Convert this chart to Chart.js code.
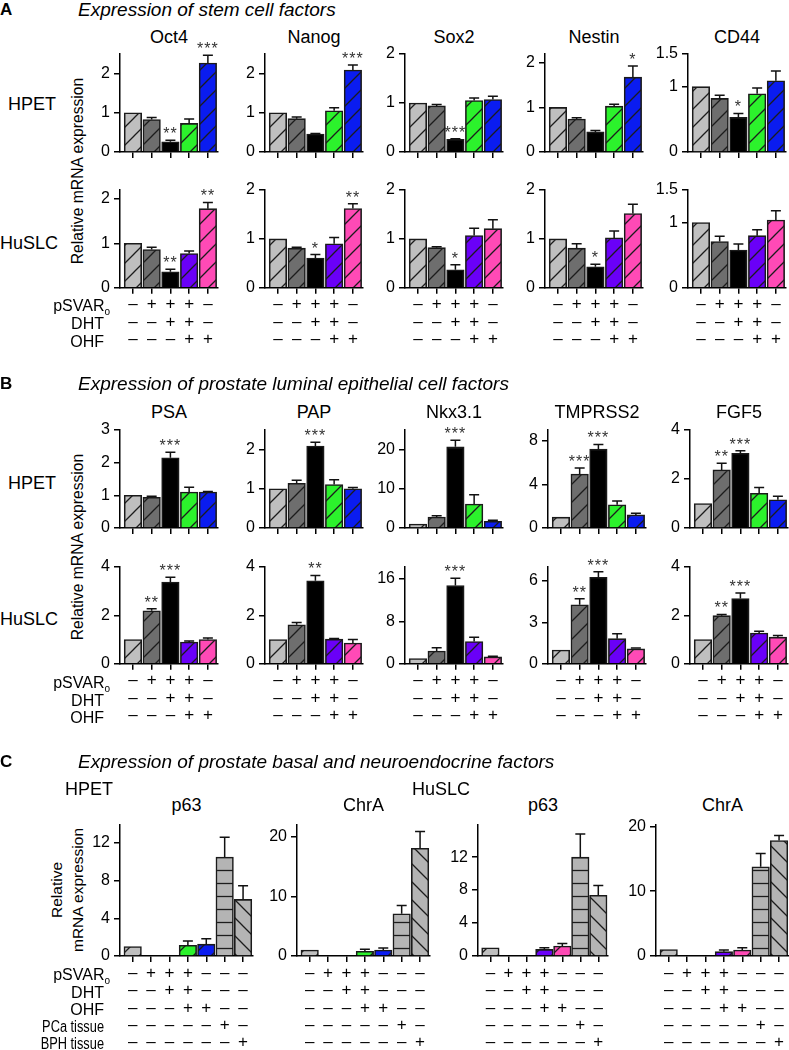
<!DOCTYPE html>
<html>
<head>
<meta charset="utf-8">
<script src="https://cdn.jsdelivr.net/npm/chart.js@4.4.1/dist/chart.umd.min.js"></script>
<style>
body { margin: 0; background: #fff; font-family: "Liberation Sans", Arial, sans-serif; }
#fig { position: relative; width: 789px; height: 1050px; overflow: hidden; }
.t { position: absolute; white-space: nowrap; color: #000; line-height: 1; }
canvas { position: absolute; }
sub { font-size: 10px; vertical-align: -4px; margin-right: -7px; }
</style>
</head>
<body>
<div id="fig"></div>
<script>
// treatment table under the bars
const pSVARo = ['–', '+', '+', '+', '–'];
const DHT = ['–', '–', '+', '+', '–'];
const OHF = ['–', '–', '–', '+', '+'];
const pSVARo7 = ['–', '+', '+', '+', '–', '–', '–'];
const DHT7 = ['–', '–', '+', '+', '–', '–', '–'];
const OHF7 = ['–', '–', '–', '+', '+', '–', '–'];
const PCa7 = ['–', '–', '–', '–', '–', '+', '–'];
const BPH7 = ['–', '–', '–', '–', '–', '–', '+'];

// A - stem cell factors, HPET
const oct4Hpet = [1.00, 0.83, 0.26, 0.73, 2.27];
const oct4HpetErr = [0, 0.05, 0.04, 0.11, 0.20];
const oct4HpetSig = ['', '', '**', '', '***'];
const nanogHpet = [1.00, 0.85, 0.46, 1.05, 2.09];
const nanogHpetErr = [0, 0.04, 0.01, 0.08, 0.13];
const nanogHpetSig = ['', '', '', '', '***'];
const sox2Hpet = [1.00, 0.94, 0.26, 1.05, 1.07];
const sox2HpetErr = [0, 0.03, 0.01, 0.05, 0.07];
const sox2HpetSig = ['', '', '***', '', ''];
const nestinHpet = [1.00, 0.74, 0.45, 1.03, 1.68];
const nestinHpetErr = [0, 0.03, 0.03, 0.04, 0.25];
const nestinHpetSig = ['', '', '', '', '*'];
const cd44Hpet = [1.00, 0.82, 0.53, 0.89, 1.09];
const cd44HpetErr = [0, 0.05, 0.06, 0.09, 0.15];
const cd44HpetSig = ['', '', '*', '', ''];

// A - stem cell factors, HuSLC
const oct4Huslc = [1.00, 0.86, 0.36, 0.77, 1.78];
const oct4HuslcErr = [0, 0.05, 0.06, 0.06, 0.14];
const oct4HuslcSig = ['', '', '**', '', '**'];
const nanogHuslc = [1.00, 0.81, 0.61, 0.90, 1.62];
const nanogHuslcErr = [0, 0.02, 0.07, 0.13, 0.10];
const nanogHuslcSig = ['', '', '*', '', '**'];
const sox2Huslc = [1.00, 0.82, 0.37, 1.07, 1.21];
const sox2HuslcErr = [0, 0.02, 0.10, 0.15, 0.18];
const sox2HuslcSig = ['', '', '*', '', ''];
const nestinHuslc = [1.00, 0.81, 0.43, 1.02, 1.52];
const nestinHuslcErr = [0, 0.09, 0.05, 0.14, 0.19];
const nestinHuslcSig = ['', '', '*', '', ''];
const cd44Huslc = [1.00, 0.71, 0.58, 0.80, 1.04];
const cd44HuslcErr = [0, 0.08, 0.09, 0.09, 0.14];
const cd44HuslcSig = ['', '', '', '', ''];

// B - luminal epithelial factors, HPET
const psaHpet = [1.00, 0.94, 2.15, 1.10, 1.10];
const psaHpetErr = [0, 0.03, 0.17, 0.15, 0.02];
const psaHpetSig = ['', '', '***', '', ''];
const papHpet = [1.00, 1.14, 2.09, 1.11, 1.00];
const papHpetErr = [0, 0.08, 0.10, 0.12, 0.03];
const papHpetSig = ['', '', '***', '', ''];
const nkxHpet = [1.0, 2.8, 20.7, 6.1, 1.7];
const nkxHpetErr = [0, 0.3, 1.7, 2.4, 0.3];
const nkxHpetSig = ['', '', '***', '', ''];
const tmprssHpet = [1.0, 4.96, 7.24, 2.13, 1.2];
const tmprssHpetErr = [0, 0.55, 0.43, 0.35, 0.15];
const tmprssHpetSig = ['', '***', '***', '', ''];
const fgf5Hpet = [1.0, 2.37, 3.05, 1.42, 1.15];
const fgf5HpetErr = [0, 0.27, 0.10, 0.23, 0.15];
const fgf5HpetSig = ['', '**', '***', '', ''];

// B - luminal epithelial factors, HuSLC
const psaHuslc = [1.0, 2.19, 3.38, 0.90, 1.00];
const psaHuslcErr = [0, 0.08, 0.20, 0.04, 0.07];
const psaHuslcSig = ['', '**', '***', '', ''];
const papHuslc = [1.0, 1.61, 3.43, 1.02, 0.86];
const papHuslcErr = [0, 0.10, 0.22, 0.03, 0.14];
const papHuslcSig = ['', '', '**', '', ''];
const nkxHuslc = [1.0, 2.4, 14.7, 4.2, 1.3];
const nkxHuslcErr = [0, 0.6, 1.4, 0.8, 0.1];
const nkxHuslcSig = ['', '', '***', '', ''];
const tmprssHuslc = [1.0, 4.27, 6.26, 1.82, 1.08];
const tmprssHuslcErr = [0, 0.43, 0.40, 0.36, 0.07];
const tmprssHuslcSig = ['', '**', '***', '', ''];
const fgf5Huslc = [1.0, 1.99, 2.70, 1.27, 1.10];
const fgf5HuslcErr = [0, 0.05, 0.23, 0.08, 0.07];
const fgf5HuslcSig = ['', '**', '***', '', ''];

// C - basal and neuroendocrine factors (null = not detected)
const p63Hpet = [1.0, null, null, 1.13, 1.26, 10.5, 6.0];
const p63HpetErr = [0, 0, 0, 0.45, 0.57, 2.1, 1.45];
const chraHpet = [1.0, null, null, 0.8, 1.0, 7.1, 18.1];
const chraHpetErr = [0, 0, 0, 0.35, 0.35, 1.4, 2.8];
const p63Huslc = [1.0, null, null, 0.8, 1.21, 12.0, 7.37];
const p63HuslcErr = [0, 0, 0, 0.2, 0.3, 2.8, 1.2];
const chraHuslc = [1.0, null, null, 0.67, 0.92, 13.75, 17.8];
const chraHuslcErr = [0, 0, 0, 0.25, 0.35, 2.05, 0.8];

Chart.defaults.font.family = '"Liberation Sans", Arial, sans-serif';
Chart.defaults.color = '#000';

const FIG = document.getElementById('fig');

// bar fill styles
const LIGHT = { color: '#bfbfbf', kind: '/' };
const DARK = { color: '#6e6e6e', kind: '/' };
const BLACK = { color: '#000000' };
const GREEN = { color: '#2cf22c', kind: '/' };
const BLUE = { color: '#0a1cf0', kind: '/' };
const PURPLE = { color: '#6a00f8', kind: '/' };
const PINK = { color: '#ff4ab6', kind: '/' };
const TISSUE_PCA = { color: '#b4b4b4', kind: '-' };
const TISSUE_BPH = { color: '#b4b4b4', kind: '\\' };
const HPET_FILLS = [LIGHT, DARK, BLACK, GREEN, BLUE];
const HUSLC_FILLS = [LIGHT, DARK, BLACK, PURPLE, PINK];
const HPET_FILLS7 = [LIGHT, LIGHT, LIGHT, GREEN, BLUE, TISSUE_PCA, TISSUE_BPH];
const HUSLC_FILLS7 = [LIGHT, LIGHT, LIGHT, PURPLE, PINK, TISSUE_PCA, TISSUE_BPH];

function makePattern(ctx, bg, kind) {
    const s = kind === '-' ? 13 : 18;
    const c = document.createElement('canvas');
    c.width = s; c.height = s;
    const g = c.getContext('2d');
    g.fillStyle = bg;
    g.fillRect(0, 0, s, s);
    g.strokeStyle = '#1c1c1c';
    g.lineWidth = 1.3;
    g.beginPath();
    if (kind === '/') {
        g.moveTo(0, s); g.lineTo(s, 0);
        g.moveTo(-2, 2); g.lineTo(2, -2);
        g.moveTo(s - 2, s + 2); g.lineTo(s + 2, s - 2);
    } else if (kind === '\\') {
        g.moveTo(0, 0); g.lineTo(s, s);
        g.moveTo(-2, s - 2); g.lineTo(2, s + 2);
        g.moveTo(s - 2, -2); g.lineTo(s + 2, 2);
    } else {
        g.moveTo(0, s / 2); g.lineTo(s, s / 2);
    }
    g.stroke();
    return ctx.createPattern(c, 'repeat');
}

function text(html, x, y, size, align, style) {
    const d = document.createElement('div');
    d.className = 't';
    d.innerHTML = html;
    d.style.fontSize = size + 'px';
    d.style.left = x + 'px';
    d.style.top = y + 'px';
    const tx = align === 'left' ? '0' : align === 'right' ? '-100%' : '-50%';
    d.style.transform = 'translate(' + tx + ',-50%)' + (style && style.rotate ? ' rotate(-90deg)' : '') + (style && style.sx ? ' scaleX(' + style.sx + ')' : '');
    if (style && style.origin) d.style.transformOrigin = style.origin;
    if (style && style.italic) d.style.fontStyle = 'italic';
    if (style && style.bold) d.style.fontWeight = 'bold';
    FIG.appendChild(d);
    return d;
}

function addChart(o) {
    const n = o.values.length;
    const YW = 40, PT = 26, PR = 6;
    const rows = o.table ? o.table.length : 0;
    const rowH = o.rowH || 17.4;
    const tpad = o.tpad || 2;
    const XH = rows ? 6 + tpad + rows * rowH + 4 : 14;
    const cv = document.createElement('canvas');
    cv.width = YW + o.w + PR;
    cv.height = PT + o.h + XH;
    cv.style.left = (o.x - YW) + 'px';
    cv.style.top = (o.top - PT) + 'px';
    FIG.appendChild(cv);
    const ctx = cv.getContext('2d');
    const fills = o.fills.map(f => f.kind ? makePattern(ctx, f.color, f.kind) : f.color);

    const errPlugin = {
        id: 'errbars',
        afterDatasetsDraw(chart) {
            const meta = chart.getDatasetMeta(0);
            const ys = chart.scales.y;
            const c = chart.ctx;
            c.save();
            c.strokeStyle = '#111';
            c.lineWidth = 1.5;
            meta.data.forEach((bar, i) => {
                const v = o.values[i];
                if (v == null) return;
                const e = o.errs[i] || 0;
                let top = bar.y;
                if (e > 0) {
                    const ye = ys.getPixelForValue(v + e);
                    c.beginPath();
                    c.moveTo(bar.x, bar.y);
                    c.lineTo(bar.x, ye);
                    c.moveTo(bar.x - 5, ye);
                    c.lineTo(bar.x + 5, ye);
                    c.stroke();
                    top = ye;
                }
                const s = o.sig && o.sig[i];
                if (s) {
                    c.fillStyle = '#333';
                    c.font = '16px "Liberation Sans", Arial, sans-serif';
                    c.textAlign = 'center';
                    c.textBaseline = 'alphabetic';
                    c.letterSpacing = '1px';
                    c.fillText(s, bar.x, top - 1);
                }
            });
            c.restore();
        }
    };

    new Chart(ctx, {
        type: 'bar',
        data: {
            datasets: [{
                data: o.values.map((v, i) => ({ x: i, y: v })),
                backgroundColor: fills,
                borderColor: '#1a1a1a',
                borderWidth: 1.6,
                barThickness: 17.5
            }]
        },
        options: {
            responsive: false,
            animation: false,
            events: [],
            layout: { padding: { top: PT, right: PR, left: 0, bottom: 0 } },
            plugins: { legend: { display: false }, tooltip: { enabled: false } },
            scales: {
                x: {
                    type: 'linear',
                    offset: false,
                    min: -0.69,
                    max: n - 0.46,
                    afterBuildTicks: s => { s.ticks = o.values.map((v, i) => ({ value: i })); },
                    afterFit: s => { s.height = XH; },
                    grid: { display: true, offset: false, drawOnChartArea: false, drawTicks: true, tickLength: 6, color: '#000', lineWidth: 1.5 },
                    border: { display: true, color: '#000', width: 1.5 },
                    ticks: {
                        display: rows > 0,
                        autoSkip: false,
                        maxRotation: 0,
                        padding: tpad,
                        color: '#000',
                        font: { size: 17, lineHeight: rowH + 'px' },
                        callback: v => o.table ? o.table.map(r => r[v]) : ''
                    }
                },
                y: {
                    min: 0,
                    max: o.max,
                    afterBuildTicks: s => { s.ticks = o.yTicks.map(v => ({ value: v })); },
                    afterFit: s => { s.width = YW; },
                    grid: { display: true, drawOnChartArea: false, drawTicks: true, tickLength: 6, color: '#000', lineWidth: 1.5 },
                    border: { display: true, color: '#000', width: 1.5 },
                    ticks: { color: '#000', padding: 4, font: { size: 16 }, callback: v => String(v) }
                }
            }
        },
        plugins: [errPlugin]
    });
}

// ---------- Panel A ----------
text('A', 0, 9, 17, 'left', { bold: true });
text('Expression of stem cell factors', 78, 9, 19, 'left', { italic: true });
const TAB3 = [pSVARo, DHT, OHF];
const xA = [120, 265, 405, 545, 688];
const titlesA = ['Oct4', 'Nanog', 'Sox2', 'Nestin', 'CD44'];
titlesA.forEach((t, i) => text(t, xA[i] + 49, 37, 18, 'center'));
text('HPET', 8, 104, 18, 'left');
text('HuSLC', 0, 243, 18, 'left');
text('Relative mRNA expression', 78, 171, 15.7, 'center', { rotate: true });

addChart({ x: xA[0], top: 54, w: 98, h: 98, max: 2.5, yTicks: [0, 1, 2], values: oct4Hpet, errs: oct4HpetErr, sig: oct4HpetSig, fills: HPET_FILLS });
addChart({ x: xA[1], top: 54, w: 98, h: 98, max: 2.5, yTicks: [0, 1, 2], values: nanogHpet, errs: nanogHpetErr, sig: nanogHpetSig, fills: HPET_FILLS });
addChart({ x: xA[2], top: 54, w: 98, h: 98, max: 2, yTicks: [0, 1, 2], values: sox2Hpet, errs: sox2HpetErr, sig: sox2HpetSig, fills: HPET_FILLS });
addChart({ x: xA[3], top: 54, w: 98, h: 98, max: 2.2, yTicks: [0, 1, 2], values: nestinHpet, errs: nestinHpetErr, sig: nestinHpetSig, fills: HPET_FILLS });
addChart({ x: xA[4], top: 54, w: 98, h: 98, max: 1.5, yTicks: [0, 1, 1.5], values: cd44Hpet, errs: cd44HpetErr, sig: cd44HpetSig, fills: HPET_FILLS });

addChart({ x: xA[0], top: 190, w: 98, h: 98.5, max: 2.2, yTicks: [0, 1, 2], values: oct4Huslc, errs: oct4HuslcErr, sig: oct4HuslcSig, fills: HUSLC_FILLS, table: TAB3 });
addChart({ x: xA[1], top: 190, w: 98, h: 98.5, max: 2, yTicks: [0, 1, 2], values: nanogHuslc, errs: nanogHuslcErr, sig: nanogHuslcSig, fills: HUSLC_FILLS, table: TAB3 });
addChart({ x: xA[2], top: 190, w: 98, h: 98.5, max: 2, yTicks: [0, 1, 2], values: sox2Huslc, errs: sox2HuslcErr, sig: sox2HuslcSig, fills: HUSLC_FILLS, table: TAB3 });
addChart({ x: xA[3], top: 190, w: 98, h: 98.5, max: 2, yTicks: [0, 1, 2], values: nestinHuslc, errs: nestinHuslcErr, sig: nestinHuslcSig, fills: HUSLC_FILLS, table: TAB3 });
addChart({ x: xA[4], top: 190, w: 98, h: 98.5, max: 1.5, yTicks: [0, 1, 1.5], values: cd44Huslc, errs: cd44HuslcErr, sig: cd44HuslcSig, fills: HUSLC_FILLS, table: TAB3 });

text('pSVAR<sub>o</sub>', 103, 306.5, 16, 'right');
text('DHT', 104, 324, 16, 'right');
text('OHF', 104, 341.5, 16, 'right');

// ---------- Panel B ----------
text('B', 0, 383, 17, 'left', { bold: true });
text('Expression of prostate luminal epithelial cell factors', 78, 383, 19, 'left', { italic: true });
const xB = [120, 265, 405, 548, 690];
const titlesB = ['PSA', 'PAP', 'Nkx3.1', 'TMPRSS2', 'FGF5'];
titlesB.forEach((t, i) => text(t, xB[i] + 49, 412, 18, 'center'));
text('HPET', 8, 483, 18, 'left');
text('HuSLC', 0, 619, 18, 'left');
text('Relative mRNA expression', 78, 547, 15.7, 'center', { rotate: true });

addChart({ x: xB[0], top: 430, w: 98, h: 98.3, max: 3, yTicks: [0, 1, 2, 3], values: psaHpet, errs: psaHpetErr, sig: psaHpetSig, fills: HPET_FILLS });
addChart({ x: xB[1], top: 430, w: 98, h: 98.3, max: 2.5, yTicks: [0, 1, 2], values: papHpet, errs: papHpetErr, sig: papHpetSig, fills: HPET_FILLS });
addChart({ x: xB[2], top: 430, w: 98, h: 98.3, max: 25, yTicks: [0, 10, 20], values: nkxHpet, errs: nkxHpetErr, sig: nkxHpetSig, fills: HPET_FILLS });
addChart({ x: xB[3], top: 430, w: 98, h: 98.3, max: 9, yTicks: [0, 4, 8], values: tmprssHpet, errs: tmprssHpetErr, sig: tmprssHpetSig, fills: HPET_FILLS });
addChart({ x: xB[4], top: 430, w: 98, h: 98.3, max: 4, yTicks: [0, 2, 4], values: fgf5Hpet, errs: fgf5HpetErr, sig: fgf5HpetSig, fills: HPET_FILLS });

addChart({ x: xB[0], top: 566.7, w: 98, h: 97.6, max: 4, yTicks: [0, 2, 4], values: psaHuslc, errs: psaHuslcErr, sig: psaHuslcSig, fills: HUSLC_FILLS, table: TAB3 });
addChart({ x: xB[1], top: 566.7, w: 98, h: 97.6, max: 4, yTicks: [0, 2, 4], values: papHuslc, errs: papHuslcErr, sig: papHuslcSig, fills: HUSLC_FILLS, table: TAB3 });
addChart({ x: xB[2], top: 566.7, w: 98, h: 97.6, max: 18.2, yTicks: [0, 8, 16], values: nkxHuslc, errs: nkxHuslcErr, sig: nkxHuslcSig, fills: HUSLC_FILLS, table: TAB3 });
addChart({ x: xB[3], top: 566.7, w: 98, h: 97.6, max: 7, yTicks: [0, 3, 6], values: tmprssHuslc, errs: tmprssHuslcErr, sig: tmprssHuslcSig, fills: HUSLC_FILLS, table: TAB3 });
addChart({ x: xB[4], top: 566.7, w: 98, h: 97.6, max: 4, yTicks: [0, 2, 4], values: fgf5Huslc, errs: fgf5HuslcErr, sig: fgf5HuslcSig, fills: HUSLC_FILLS, table: TAB3 });

text('pSVAR<sub>o</sub>', 103, 683.5, 16, 'right');
text('DHT', 104, 700.5, 16, 'right');
text('OHF', 104, 717.5, 16, 'right');

// ---------- Panel C ----------
text('C', 0, 761, 17, 'left', { bold: true });
text('Expression of prostate basal and neuroendocrine factors', 78, 761, 19, 'left', { italic: true });
text('HPET', 65, 789, 18, 'left');
text('HuSLC', 412, 789, 18, 'left');
const TAB5 = [pSVARo7, DHT7, OHF7, PCa7, BPH7];
const xC = [120, 297, 478, 656];
const wC = [133, 133, 130, 133];
const titlesC = ['p63', 'ChrA', 'p63', 'ChrA'];
titlesC.forEach((t, i) => text(t, xC[i] + wC[i] / 2, 805, 18, 'center'));
text('Relative', 57, 890, 15.5, 'center', { rotate: true });
text('mRNA expression', 78, 890, 15.5, 'center', { rotate: true });

addChart({ x: xC[0], top: 825, w: wC[0], h: 131.7, max: 13.9, yTicks: [0, 4, 8, 12], values: p63Hpet, errs: p63HpetErr, fills: HPET_FILLS7, table: TAB5, rowH: 17.2, tpad: 3 });
addChart({ x: xC[1], top: 825, w: wC[1], h: 131.7, max: 22, yTicks: [0, 10, 20], values: chraHpet, errs: chraHpetErr, fills: HPET_FILLS7, table: TAB5, rowH: 17.2, tpad: 3 });
addChart({ x: xC[2], top: 825, w: wC[2], h: 131.7, max: 15.9, yTicks: [0, 4, 8, 12], values: p63Huslc, errs: p63HuslcErr, fills: HUSLC_FILLS7, table: TAB5, rowH: 17.2, tpad: 3 });
addChart({ x: xC[3], top: 825, w: wC[3], h: 131.7, max: 20.2, yTicks: [0, 10, 20], values: chraHuslc, errs: chraHuslcErr, fills: HUSLC_FILLS7, table: TAB5, rowH: 17.2, tpad: 3 });

text('pSVAR<sub>o</sub>', 103, 975.7, 16, 'right');
text('DHT', 104, 992.5, 16, 'right');
text('OHF', 104, 1010, 16, 'right');
text('PCa tissue', 104, 1026.8, 16, 'right', { sx: 0.8, origin: '100% 50%' });
text('BPH tissue', 104, 1044.3, 16, 'right', { sx: 0.8, origin: '100% 50%' });
</script>
</body>
</html>
